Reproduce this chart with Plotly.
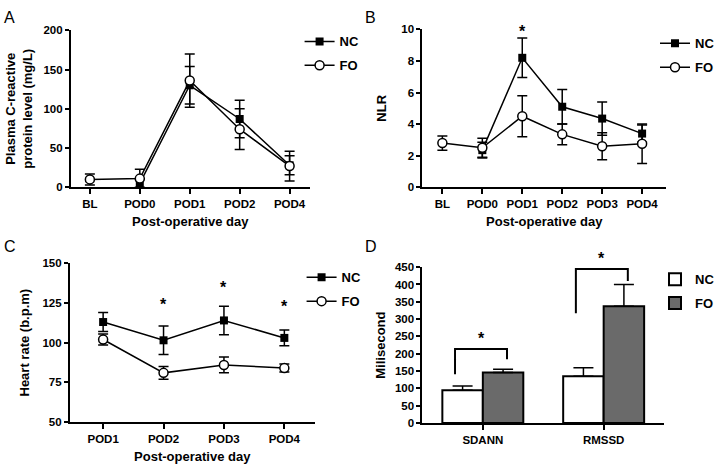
import plotly.graph_objects as go

# Panel A - plasma CRP (mg/L)
crp_days = ['BL', 'POD0', 'POD1', 'POD2', 'POD4']
crp_nc = [None, 5, 130, 87, 28]
crp_nc_err = [0, 5, 24, 24, 12]
crp_fo = [10, 11, 136, 74, 27]
crp_fo_err = [7, 12, 34, 26, 19]

# Panel B - NLR
nlr_days = ['BL', 'POD0', 'POD1', 'POD2', 'POD3', 'POD4']
nlr_nc = [None, 2.35, 8.2, 5.1, 4.35, 3.4]
nlr_nc_err = [0, 0.5, 1.25, 1.1, 1.05, 0.55]
nlr_fo = [2.8, 2.5, 4.5, 3.35, 2.6, 2.75]
nlr_fo_err = [0.45, 0.6, 1.3, 0.65, 0.85, 1.25]
nlr_stars = [('POD1', 10.1)]
NLR_RANGE = (0, 10)

# Panel C - heart rate
hr_days = ['POD1', 'POD2', 'POD3', 'POD4']
hr_nc = [113, 101.5, 114, 103]
hr_nc_err = [6, 9, 9, 5]
hr_fo = [102, 81, 86, 84]
hr_fo_err = [3.5, 4, 5, 2.5]
hr_stars = [('POD2', 126.5), ('POD3', 137), ('POD4', 125.5)]
HR_RANGE = (50, 150)

# Panel D - HRV
hrv_cats = ['SDANN', 'RMSSD']
hrv_nc = [95, 135]
hrv_nc_err = [12, 25]
hrv_fo = [146, 337]
hrv_fo_err = [9, 63]
# bracket: left leg bottom, top, right leg bottom, star height
hrv_brackets = [(141, 214, 184, 256), (317, 445, 410, 487)]
HRV_RANGE = (0, 450)

W, H = 720, 470
FONT = 'Liberation Sans'


def xdom(a, b):
    return [a / W, b / W]


def ydom(top, bottom):
    return [1 - bottom / H, 1 - top / H]


def frac(v, rng):
    return (v - rng[0]) / (rng[1] - rng[0])


def err(vals):
    return dict(type='data', array=vals, visible=True, color='black', thickness=1.5, width=5)


def line_traces(xs, nc, nc_e, fo, fo_e, ax, leg):
    nc_tr = go.Scatter(x=xs, y=nc, name='NC', mode='lines+markers', error_y=err(nc_e),
                       line=dict(color='black', width=1.5),
                       marker=dict(symbol='square', size=8, color='black'),
                       xaxis='x' + ax, yaxis='y' + ax, legend=leg, legendgroup=leg + 'nc',
                       cliponaxis=False)
    fo_tr = go.Scatter(x=xs, y=fo, name='FO', mode='lines+markers', error_y=err(fo_e),
                       line=dict(color='black', width=1.5),
                       marker=dict(symbol='circle', size=9, color='white',
                                   line=dict(color='black', width=1.5)),
                       xaxis='x' + ax, yaxis='y' + ax, legend=leg, legendgroup=leg + 'fo',
                       cliponaxis=False)
    return [nc_tr, fo_tr]


traces = []
traces += line_traces(crp_days, crp_nc, crp_nc_err, crp_fo, crp_fo_err, '', 'legend')
traces += line_traces(nlr_days, nlr_nc, nlr_nc_err, nlr_fo, nlr_fo_err, '2', 'legend2')
traces += line_traces(hr_days, hr_nc, hr_nc_err, hr_fo, hr_fo_err, '3', 'legend3')

traces.append(go.Bar(x=hrv_cats, y=hrv_nc, name='NC', xaxis='x4', yaxis='y4',
                     marker=dict(color='white', line=dict(color='black', width=2)),
                     error_y=dict(type='data', array=hrv_nc_err, arrayminus=[0, 0], symmetric=False,
                                  color='black', thickness=1.5, width=10),
                     legend='legend4', legendgroup='dnc'))
traces.append(go.Bar(x=hrv_cats, y=hrv_fo, name='FO', xaxis='x4', yaxis='y4',
                     marker=dict(color='#6a6a6a', line=dict(color='black', width=2)),
                     error_y=dict(type='data', array=hrv_fo_err, arrayminus=[0, 0], symmetric=False,
                                  color='black', thickness=1.5, width=10),
                     legend='legend4', legendgroup='dfo'))

fig = go.Figure(data=traces)

tick_font = dict(family=FONT, size=11.5, color='black', weight='bold')
title_font = dict(family=FONT, size=13, color='black', weight='bold')


def xaxis(dom, rng, anchor, title=None):
    return dict(domain=dom, range=rng, anchor=anchor, showline=True, linewidth=2, linecolor='black',
                ticks='outside', ticklen=5, tickwidth=2, tickcolor='black', showgrid=False,
                zeroline=False, tickfont=tick_font,
                title=dict(text=title, font=title_font, standoff=8) if title else None)


def yaxis(dom, rng, anchor, dtick, title, standoff):
    return dict(domain=dom, range=list(rng), anchor=anchor, showline=True, linewidth=2,
                linecolor='black', ticks='outside', ticklen=4, tickwidth=2, tickcolor='black',
                showgrid=False, zeroline=False, tickfont=tick_font, dtick=dtick, tick0=0,
                title=dict(text=title, font=title_font, standoff=standoff))


def legend(x, y):
    return dict(x=x / W, y=1 - y / H, xanchor='left', yanchor='top', bgcolor='rgba(0,0,0,0)',
                font=dict(family=FONT, size=13, color='black', weight='bold'),
                tracegroupgap=4, itemwidth=30)


fig.update_layout(
    width=W, height=H, margin=dict(l=0, r=0, t=0, b=0),
    plot_bgcolor='white', paper_bgcolor='white', showlegend=True,
    barmode='group', bargap=0.33, bargroupgap=0,
    xaxis=xaxis(xdom(71, 310), [-0.38, 4.4], 'y', 'Post-operative day'),
    yaxis=yaxis(ydom(25, 186), (0, 200), 'x', 50, 'Plasma C-reactive<br>protein level (mg/L)', 8),
    xaxis2=xaxis(xdom(423, 667), [-0.5, 5.6], 'y2', 'Post-operative day'),
    yaxis2=yaxis(ydom(24, 186), NLR_RANGE, 'x2', 2, 'NLR', 12),
    xaxis3=xaxis(xdom(70, 315), [-0.55, 3.5], 'y3', 'Post-operative day'),
    yaxis3=yaxis(ydom(264, 427), HR_RANGE, 'x3', 25, 'Heart rate (b.p.m)', 10),
    xaxis4=xaxis(xdom(423, 665), [-0.5, 1.5], 'y4'),
    yaxis4=yaxis(ydom(268, 428), HRV_RANGE, 'x4', 50, 'Milisecond', 6),
    legend=legend(300, 21),
    legend2=legend(656, 23),
    legend3=legend(302, 263),
    legend4=legend(656, 265),
)

# panel letters
for letter, px, py in [('A', 2, 1), ('B', 364, 1), ('C', 2, 236), ('D', 364, 236)]:
    fig.add_annotation(text=letter, x=px / W, y=1 - py / H, xref='paper', yref='paper',
                       xanchor='left', yanchor='top', showarrow=False,
                       font=dict(family=FONT, size=16, color='black'))

star_font = dict(family=FONT, size=16, color='black', weight='bold')
for cat, yv in nlr_stars:
    fig.add_annotation(text='*', x=cat, y=frac(yv, NLR_RANGE), xref='x2', yref='y2 domain',
                       showarrow=False, yanchor='middle', yshift=-4, font=star_font)
for cat, yv in hr_stars:
    fig.add_annotation(text='*', x=cat, y=frac(yv, HR_RANGE), xref='x3', yref='y3 domain',
                       showarrow=False, yanchor='middle', yshift=-4, font=star_font)

# significance brackets in D
for i, (lb, top, rb, star) in enumerate(hrv_brackets):
    xl, xr = i - 0.23, i + 0.2
    fig.add_shape(type='path', xref='x4', yref='y4',
                  path=f'M {xl} {lb} L {xl} {top} L {xr} {top} L {xr} {rb}',
                  line=dict(color='black', width=2))
    fig.add_annotation(text='*', x=(xl + xr) / 2, y=frac(star, HRV_RANGE), xref='x4',
                       yref='y4 domain', showarrow=False, yanchor='middle', yshift=-4,
                       font=star_font)

fig.write_html("out.html", config={'displayModeBar': False},
               post_script="document.body.style.margin='0';")
